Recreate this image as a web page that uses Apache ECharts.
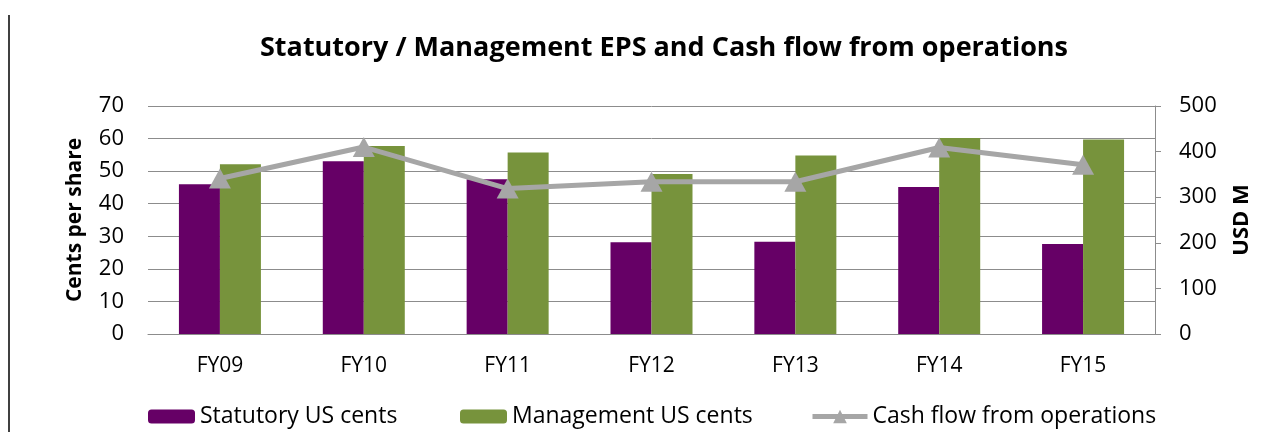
<!DOCTYPE html>
<html>
<head>
<meta charset="utf-8">
<script src="https://cdn.jsdelivr.net/npm/echarts@6/dist/echarts.min.js"></script>
<style>
  html, body { margin: 0; padding: 0; background: #fff; }
  #chart { width: 1284px; height: 432px; }
</style>
</head>
<body>
<div id="chart"></div>
<script>
// data
const years = ['FY09', 'FY10', 'FY11', 'FY12', 'FY13', 'FY14', 'FY15'];
const statutory = [46, 53, 47.5, 28.2, 28.3, 45.1, 27.6];
const management = [52.1, 57.7, 55.7, 49.1, 54.8, 60.2, 59.7];
const cashFlow = [341, 410, 319, 334, 334, 409, 371];

const font = 'Open Sans';
const grey = '#8c8c8c';

const chart = echarts.init(document.getElementById('chart'));
chart.setOption({
  animation: false,
  textStyle: { fontFamily: font },
  title: {
    text: 'Statutory / Management EPS and Cash flow from operations',
    left: 260, top: 35, padding: 0,
    textStyle: { fontSize: 27, fontWeight: 'bold', color: '#000', fontFamily: font }
  },
  graphic: [{
    type: 'line', shape: { x1: 9, y1: 15, x2: 9, y2: 432 },
    style: { stroke: '#000', lineWidth: 1.5 }
  }],
  legend: [
    { data: ['Statutory US cents'], left: 143, top: 400, itemWidth: 47, itemHeight: 14, itemGap: 8,
      textStyle: { fontSize: 23, color: '#000' } },
    { data: ['Management US cents'], left: 455, top: 400, itemWidth: 47, itemHeight: 14,
      textStyle: { fontSize: 23, color: '#000' } },
    { data: ['Cash flow from operations'], left: 805, top: 400, itemWidth: 55, itemHeight: 17,
      lineStyle: { width: 5 },
      textStyle: { fontSize: 23, color: '#000' } }
  ],
  grid: { left: 148, right: 129, top: 106, bottom: 98 },
  xAxis: {
    type: 'category', data: years,
    axisLine: { lineStyle: { color: grey, width: 1 } },
    axisTick: { length: 7, lineStyle: { color: grey } },
    axisLabel: { fontSize: 21, color: '#000', margin: 22 }
  },
  yAxis: [{
    type: 'value', min: 0, max: 70, interval: 10,
    name: 'Cents per share', nameLocation: 'middle', nameGap: 62,
    nameTextStyle: { fontSize: 21, fontWeight: 'bold', color: '#000' },
    axisLine: { show: false }, axisTick: { show: false },
    axisLabel: { fontSize: 22, color: '#000', margin: 24 },
    splitLine: { lineStyle: { color: grey, width: 1 } }
  }, {
    type: 'value', min: 0, max: 500, interval: 100, position: 'right',
    name: 'USD M', nameLocation: 'middle', nameGap: 76, nameRotate: 90,
    nameTextStyle: { fontSize: 22, fontWeight: 'bold', color: '#000' },
    axisLine: { show: true, lineStyle: { color: grey, width: 1 } },
    axisTick: { show: true, length: 6, lineStyle: { color: grey } },
    axisLabel: { fontSize: 22, color: '#000', margin: 24 },
    splitLine: { show: false }
  }],
  series: [{
    name: 'Statutory US cents', type: 'bar', data: statutory,
    barWidth: 41, barGap: '0%', itemStyle: { color: '#660066' }
  }, {
    name: 'Management US cents', type: 'bar', data: management,
    barWidth: 41, itemStyle: { color: '#77933c' }
  }, {
    name: 'Cash flow from operations', type: 'line', yAxisIndex: 1, data: cashFlow,
    symbol: 'triangle', symbolSize: [22, 20],
    lineStyle: { color: '#a6a6a6', width: 5 },
    itemStyle: { color: '#a6a6a6' }
  }]
});
</script>
</body>
</html>
